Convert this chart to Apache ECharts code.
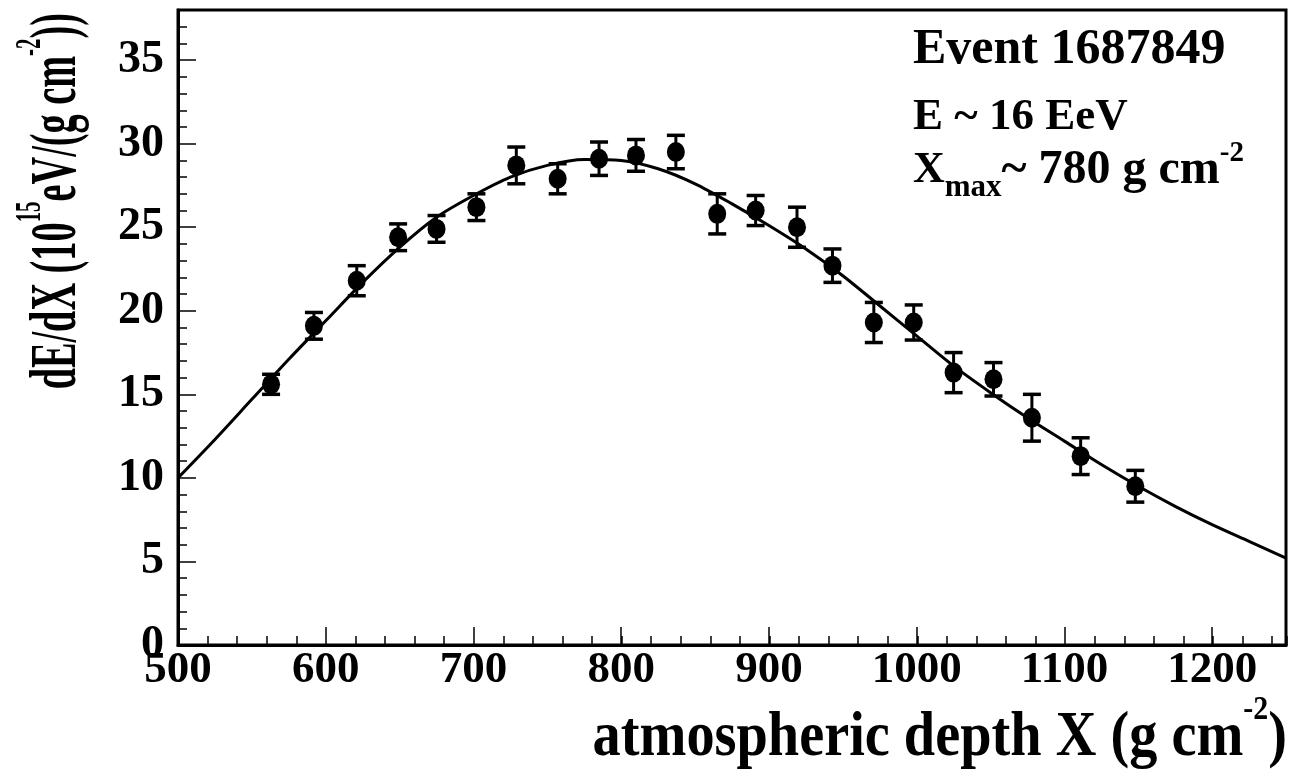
<!DOCTYPE html>
<html>
<head>
<meta charset="utf-8">
<script src="https://cdn.jsdelivr.net/npm/echarts@6/dist/echarts.min.js"></script>
<style>
html, body { margin: 0; padding: 0; background: #fff; }
#main { width: 1289px; height: 773px; }
</style>
</head>
<body>
<div id="main"></div>
<script>
// measured profile points (depth in g/cm2, dE/dX in 1e15 eV/(g/cm2))
var depth = [563, 592, 621, 649, 675, 702, 729, 757, 785, 810, 837, 865, 891, 919, 943, 971, 998, 1025, 1052, 1078, 1111, 1148];
var dEdX = [15.6, 19.1, 21.8, 24.4, 24.9, 26.2, 28.7, 27.9, 29.1, 29.3, 29.5, 25.8, 26.0, 25.0, 22.7, 19.3, 19.3, 16.3, 15.9, 13.6, 11.3, 9.5];
var dEdXErr = [0.6, 0.8, 0.9, 0.8, 0.8, 0.8, 1.1, 0.9, 1.0, 0.95, 1.0, 1.2, 0.9, 1.2, 1.0, 1.2, 1.05, 1.2, 1.0, 1.4, 1.1, 0.95];

// fitted curve
var fitX = [500, 525, 550, 575, 600, 625, 650, 675, 700, 725, 750, 775, 800, 825, 850, 875, 900, 925, 950, 975, 1000, 1025, 1050, 1075, 1100, 1125, 1150, 1175, 1200, 1225, 1250];
var fitY = [10.0, 12.3, 14.7, 17.1, 19.4, 21.7, 23.8, 25.6, 26.9, 28.0, 28.7, 29.05, 29.0, 28.5, 27.6, 26.4, 25.1, 23.7, 22.1, 20.3, 18.5, 16.7, 15.1, 13.6, 12.2, 10.8, 9.5, 8.3, 7.2, 6.2, 5.2];

// tick labels
var xTickLabels = [500, 600, 700, 800, 900, 1000, 1100, 1200];
var yTickLabels = [0, 5, 10, 15, 20, 25, 30, 35];

var serif = "'Liberation Serif', 'Times New Roman', serif";

var chart = echarts.init(document.getElementById('main'));

var gridBox = { left: 178, top: 10, right: 2, bottom: 128 };

var option = {
	animation: false,
	backgroundColor: '#fff',
	grid: [
		Object.assign({ show: true, borderColor: '#000', borderWidth: 3 }, gridBox),
		Object.assign({ show: false }, gridBox)
	],
	xAxis: [{
		type: 'value', gridIndex: 0, min: 500, max: 1250, interval: 100,
		axisLine: { show: true, lineStyle: { color: '#000', width: 3 } },
		axisTick: { show: true, inside: true, length: 18, lineStyle: { color: '#000', width: 1.5 } },
		axisLabel: {
			margin: 3, color: '#000', fontSize: 45, fontWeight: 'bold', fontFamily: serif,
			formatter: function (v) { return xTickLabels.indexOf(v) >= 0 ? String(v) : ''; }
		},
		splitLine: { show: false }
	}, {
		// minor ticks
		type: 'value', gridIndex: 1, min: 500, max: 1250, interval: 20,
		axisLine: { show: false },
		axisTick: { show: true, inside: true, length: 9, lineStyle: { color: '#000', width: 1.5 } },
		axisLabel: { show: false },
		splitLine: { show: false }
	}],
	yAxis: [{
		type: 'value', gridIndex: 0, min: 0, max: 38, interval: 5,
		axisLine: { show: true, lineStyle: { color: '#000', width: 3 } },
		axisTick: { show: true, inside: true, length: 18, lineStyle: { color: '#000', width: 1.5 } },
		axisLabel: {
			margin: 14, color: '#000', fontSize: 46, fontWeight: 'bold', fontFamily: serif,
			formatter: function (v) { return yTickLabels.indexOf(v) >= 0 ? String(v) : ''; }
		},
		splitLine: { show: false }
	}, {
		type: 'value', gridIndex: 1, min: 0, max: 38, interval: 1,
		axisLine: { show: false },
		axisTick: { show: true, inside: true, length: 9, lineStyle: { color: '#000', width: 1.5 } },
		axisLabel: { show: false },
		splitLine: { show: false }
	}],
	graphic: [{
		type: 'text', x: 58, y: 13, rotation: Math.PI / 2, scaleX: 0.58,
		style: {
			text: '{a|dE/dX (10}{s|15}{a|eV/(g cm}{s|-2}{a|))}',
			align: 'right', verticalAlign: 'middle', fill: '#000',
			rich: {
				a: { fontSize: 66, lineHeight: 90, fontWeight: 'bold', fontFamily: serif, fill: '#000' },
				s: { fontSize: 36, lineHeight: 26, verticalAlign: 'top', fontWeight: 'bold', fontFamily: serif, fill: '#000' }
			}
		}
	}, {
		type: 'text', x: 1287, y: 738, scaleX: 0.88,
		style: {
			text: '{a|atmospheric depth X (g cm}{s|-2}{a|)}',
			align: 'right', verticalAlign: 'middle', fill: '#000',
			rich: {
				a: { fontSize: 64, lineHeight: 90, fontWeight: 'bold', fontFamily: serif, fill: '#000' },
				s: { fontSize: 34, lineHeight: 28, verticalAlign: 'top', fontWeight: 'bold', fontFamily: serif, fill: '#000' }
			}
		}
	}, {
		type: 'text', x: 913, y: 50,
		style: { text: 'Event 1687849', align: 'left', verticalAlign: 'middle', fill: '#000',
			fontSize: 50, fontWeight: 'bold', fontFamily: serif }
	}, {
		type: 'text', x: 913, y: 117,
		style: { text: 'E ~ 16 EeV', align: 'left', verticalAlign: 'middle', fill: '#000',
			fontSize: 45, fontWeight: 'bold', fontFamily: serif }
	}, {
		type: 'text', x: 913, y: 171,
		style: {
			text: '{b|X}{sub|max}{c|~ 780 g cm}{sup|-2}',
			align: 'left', verticalAlign: 'middle', fill: '#000',
			rich: {
				b: { fontSize: 44, lineHeight: 64, fontWeight: 'bold', fontFamily: serif, fill: '#000' },
				c: { fontSize: 48, lineHeight: 64, fontWeight: 'bold', fontFamily: serif, fill: '#000' },
				sub: { fontSize: 31, lineHeight: 20, verticalAlign: 'bottom', fontWeight: 'bold', fontFamily: serif, fill: '#000' },
				sup: { fontSize: 29, lineHeight: 38, verticalAlign: 'top', fontWeight: 'bold', fontFamily: serif, fill: '#000' }
			}
		}
	}],
	series: [{
		name: 'fit',
		type: 'line',
		xAxisIndex: 0, yAxisIndex: 0,
		smooth: 0.3,
		showSymbol: false,
		symbol: 'none',
		lineStyle: { color: '#000', width: 3 },
		z: 2,
		data: fitX.map(function (x, i) { return [x, fitY[i]]; })
	}, {
		name: 'errors',
		type: 'custom',
		xAxisIndex: 0, yAxisIndex: 0,
		z: 3,
		renderItem: function (params, api) {
			var top = api.coord([api.value(0), api.value(2)]);
			var bot = api.coord([api.value(0), api.value(1)]);
			var hw = 9;
			var st = { stroke: '#000', lineWidth: 3 };
			return {
				type: 'group',
				children: [
					{ type: 'line', shape: { x1: top[0], y1: top[1], x2: bot[0], y2: bot[1] }, style: st },
					{ type: 'line', shape: { x1: top[0] - hw, y1: top[1], x2: top[0] + hw, y2: top[1] }, style: { stroke: '#000', lineWidth: 3.5 } },
					{ type: 'line', shape: { x1: bot[0] - hw, y1: bot[1], x2: bot[0] + hw, y2: bot[1] }, style: { stroke: '#000', lineWidth: 3.5 } }
				]
			};
		},
		data: depth.map(function (x, i) { return [x, dEdX[i] - dEdXErr[i], dEdX[i] + dEdXErr[i]]; })
	}, {
		name: 'data',
		type: 'scatter',
		xAxisIndex: 0, yAxisIndex: 0,
		symbol: 'circle',
		symbolSize: [18, 20],
		itemStyle: { color: '#000', opacity: 1 },
		z: 4,
		data: depth.map(function (x, i) { return [x, dEdX[i]]; })
	}]
};

chart.setOption(option);
</script>
</body>
</html>
